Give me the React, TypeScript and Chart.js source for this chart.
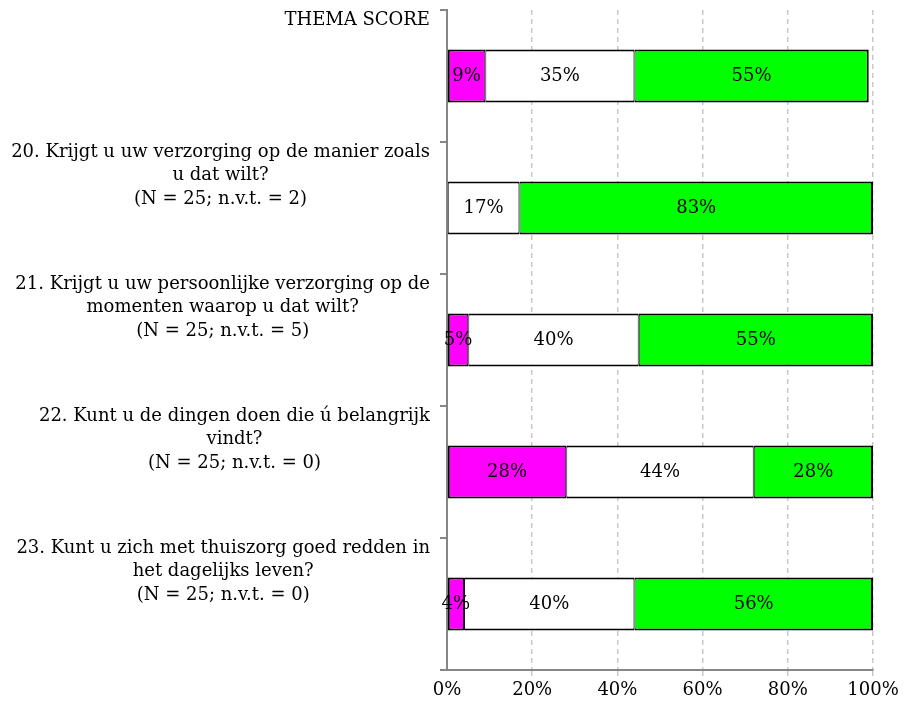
import React, { useEffect, useRef } from "react";
import { Chart, registerables } from "chart.js";

Chart.register(...registerables);

// Category labels, one entry per line of text
const categoryLines: string[][] = [
  ["THEMA SCORE"],
  ["20. Krijgt u uw verzorging op de manier zoals", "u dat wilt?", "(N = 25; n.v.t. = 2)"],
  ["21. Krijgt u uw persoonlijke verzorging op de", "momenten waarop u dat wilt?", "(N = 25; n.v.t. = 5)"],
  ["22. Kunt u de dingen doen die ú belangrijk", "vindt?", "(N = 25; n.v.t. = 0)"],
  ["23. Kunt u zich met thuiszorg goed redden in", "het dagelijks leven?", "(N = 25; n.v.t. = 0)"],
];

// Percentages per answer group
const nooit: (number | null)[] = [9, null, 5, 28, 4];
const soms: (number | null)[] = [35, 17, 40, 44, 40];
const altijd: (number | null)[] = [55, 83, 55, 28, 56];

const xTicks = [0, 20, 40, 60, 80, 100];

const FONT = '"DejaVu Serif", serif';
const FONT_SIZE = 18;

const valueLabels = {
  id: "valueLabels",
  afterDatasetsDraw(chart: any) {
    const ctx = chart.ctx;
    ctx.save();
    ctx.font = `${FONT_SIZE}px ${FONT}`;
    ctx.fillStyle = "#000";
    ctx.textAlign = "center";
    ctx.textBaseline = "middle";
    chart.data.datasets.forEach((ds: any, di: number) => {
      const meta = chart.getDatasetMeta(di);
      meta.data.forEach((el: any, i: number) => {
        const v = ds.data[i];
        if (v === null || v === undefined) return;
        const p = el.getCenterPoint();
        ctx.fillText(`${v}%`, p.x, p.y);
      });
    });
    ctx.restore();
  },
};

const categoryLabels = {
  id: "categoryLabels",
  afterDraw(chart: any) {
    const ctx = chart.ctx;
    const y = chart.scales.y;
    const lineH = 23.5;
    ctx.save();
    ctx.font = `${FONT_SIZE}px ${FONT}`;
    ctx.fillStyle = "#000";
    ctx.textAlign = "center";
    ctx.textBaseline = "middle";
    categoryLines.forEach((lines, i) => {
      const cy = y.getPixelForValue(i);
      const blockW = Math.max(...lines.map((l) => ctx.measureText(l).width));
      const right = y.right - 17;
      const cx = right - blockW / 2;
      const top = cy - 56;
      lines.forEach((l, j) => ctx.fillText(l, cx, top + j * lineH));
    });
    ctx.restore();
  },
};

export default function App() {
  const ref = useRef<HTMLCanvasElement | null>(null);

  useEffect(() => {
    if (!ref.current) return;
    const chart = new Chart(ref.current, {
      type: "bar",
      data: {
        labels: categoryLines.map((l) => l.join(" ")),
        datasets: [
          {
            label: "Nee",
            data: nooit,
            backgroundColor: "#FF00FF",
            borderColor: "#000",
            borderWidth: { top: 2, bottom: 2, left: 2, right: 1 },
            borderSkipped: false,
          },
          {
            label: "Soms",
            data: soms,
            backgroundColor: "#FFFFFF",
            borderColor: "#000",
            borderWidth: { top: 2, bottom: 2, left: 1, right: 1 },
            borderSkipped: false,
          },
          {
            label: "Ja",
            data: altijd,
            backgroundColor: "#00FF00",
            borderColor: "#000",
            borderWidth: { top: 2, bottom: 2, left: 1, right: 2 },
            borderSkipped: false,
          },
        ] as any,
      },
      options: {
        indexAxis: "y",
        animation: false,
        responsive: true,
        maintainAspectRatio: false,
        layout: { padding: { top: 10, right: 32, left: 0, bottom: 0 } },
        datasets: { bar: { barPercentage: 0.4, categoryPercentage: 1 } },
        plugins: {
          legend: { display: false },
          tooltip: { enabled: false },
        },
        scales: {
          x: {
            stacked: true,
            min: 0,
            max: 100,
            afterFit: (s: any) => {
              s.height = 39;
            },
            afterBuildTicks: (s: any) => {
              s.ticks = xTicks.map((v) => ({ value: v }));
            },
            ticks: {
              color: "#000",
              font: { family: FONT, size: FONT_SIZE },
              padding: 4,
              maxRotation: 0,
              callback: (v: any) => `${v}%`,
            },
            grid: {
              color: (c: any) => (c.tick && c.tick.value === 0 ? "rgba(0,0,0,0)" : "#c8c8c8"),
              lineWidth: 1.5,
              tickLength: 6,
            },
            border: { color: "#868686", width: 2, dash: [5, 4] },
          },
          y: {
            stacked: true,
            afterFit: (s: any) => {
              s.width = 447;
            },
            ticks: { display: false },
            grid: {
              drawOnChartArea: false,
              drawTicks: true,
              tickLength: 7,
              color: "#868686",
              lineWidth: 2,
            },
            border: { color: "#868686", width: 2 },
          },
        },
      } as any,
      plugins: [valueLabels, categoryLabels],
    });
    return () => chart.destroy();
  }, []);

  return (
    <div style={{ position: "fixed", left: 0, top: 0, width: 905, height: 709, background: "#fff" }}>
      <canvas ref={ref} />
    </div>
  );
}
